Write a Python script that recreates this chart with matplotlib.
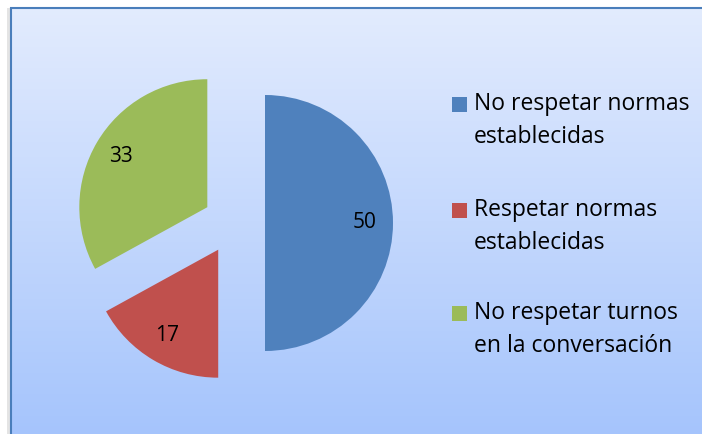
import numpy as np
import matplotlib.pyplot as plt
from matplotlib.patches import Rectangle

# data
categories = ["No respetar normas\nestablecidas",
              "Respetar normas\nestablecidas",
              "No respetar turnos\nen la conversación"]
values = [50, 17, 33]
colors = ["#4F81BD", "#C0504D", "#9BBB59"]

W, H = 702, 434
fig = plt.figure(figsize=(W / 100, H / 100), dpi=100)
plt.rcParams["font.family"] = ["Open Sans", "DejaVu Sans"]

ax = fig.add_axes([0, 0, 1, 1])

# chart area background: white page, shadow, gradient fill, blue border (left + top only visible)
left, top = 11, 8
ax.add_patch(Rectangle((left - 4, 0), 4, H - top, color="#e4e4e4", lw=0, zorder=0.5))
top_c = np.array([226, 235, 253]) / 255
bot_c = np.array([165, 196, 252]) / 255
n = 120
ys = np.linspace(H - top, 0, n + 1)
for i in range(n):
    f = (i + 0.5) / n
    ax.add_patch(Rectangle((left, ys[i + 1]), W - left, ys[i] - ys[i + 1] + 0.5,
                           color=top_c * (1 - f) + bot_c * f, lw=0, zorder=1))
ax.plot([left, left, W], [0, H - top, H - top], color="#4A7EBB", lw=1.5,
        solid_joinstyle="miter", zorder=5)

# exploded pie (explode is in data units here since radius != 1)
radius = 128
center = (234, H - 223)
wedges, texts, autotexts = ax.pie(
    values, colors=colors, startangle=90, counterclock=False,
    explode=[31] * 3, radius=radius, center=center,
    autopct=lambda p: f"{p:.0f}", pctdistance=0.78,
    textprops=dict(fontsize=15, color="black"),
    wedgeprops=dict(linewidth=0), frame=True)
for w in wedges:
    w.set_zorder(3)
for t in autotexts:
    t.set_zorder(4)

# legend
leg_y = [104, 210, 313]
for lab, col, y in zip(categories, colors, leg_y):
    ax.add_patch(Rectangle((452, H - y - 7.5), 15, 15, color=col, lw=0, zorder=4))
    for k, line in enumerate(lab.split("\n")):
        ax.text(474, H - y - 33 * k, line, fontsize=16.5, va="center", ha="left",
                zorder=4)

ax.set_xlim(0, W)
ax.set_ylim(0, H)
ax.axis("off")

fig.savefig("out.png", dpi=100)
